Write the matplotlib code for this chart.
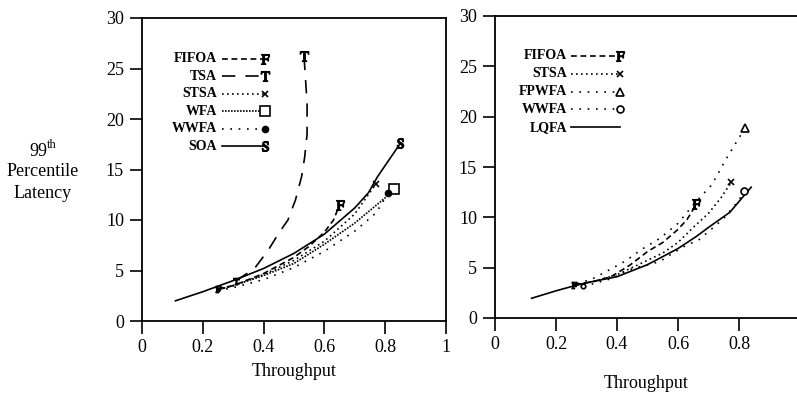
import numpy as np
import matplotlib
matplotlib.use('Agg')
import matplotlib.pyplot as plt

matplotlib.rcParams['font.family'] = ['Liberation Serif', 'DejaVu Serif']
matplotlib.rcParams['mathtext.fontset'] = 'stix'

# ---- left panel data (throughput, 99th percentile latency) ----
soa_x = [0.11, 0.2, 0.3, 0.4, 0.5, 0.6, 0.65, 0.7, 0.745, 0.775, 0.85]
soa_y = [2.0, 2.9, 4.0, 5.2, 6.7, 8.6, 9.9, 11.2, 12.7, 14.3, 17.6]
tsa_x = [0.31, 0.37, 0.415, 0.45, 0.48, 0.505, 0.525, 0.535, 0.543, 0.543, 0.533]
tsa_y = [4.0, 5.2, 7.0, 8.7, 10.0, 12.0, 14.3, 16.2, 18.5, 21.6, 26.2]
fifoa1_x = [0.25, 0.3, 0.4, 0.5, 0.55, 0.6, 0.63, 0.65]
fifoa1_y = [3.2, 3.5, 4.7, 6.3, 7.4, 8.8, 10.0, 11.5]
stsa1_x = [0.25, 0.3, 0.4, 0.5, 0.6, 0.7, 0.77]
stsa1_y = [3.1, 3.5, 4.6, 6.0, 7.9, 10.6, 13.6]
wfa_x = [0.25, 0.3, 0.4, 0.5, 0.6, 0.7, 0.8, 0.83]
wfa_y = [3.1, 3.5, 4.5, 5.7, 7.6, 9.7, 12.2, 13.1]
wwfa1_x = [0.25, 0.3, 0.4, 0.5, 0.6, 0.7, 0.77, 0.81]
wwfa1_y = [3.0, 3.3, 4.1, 5.3, 6.9, 8.9, 10.7, 12.7]

# ---- right panel data ----
lqfa_x = [0.12, 0.2, 0.26, 0.3, 0.4, 0.5, 0.6, 0.66, 0.7, 0.77, 0.84]
lqfa_y = [1.96, 2.7, 3.2, 3.5, 4.1, 5.3, 6.9, 8.1, 9.0, 10.5, 13.0]
fpwfa_x = [0.27, 0.32, 0.37, 0.43, 0.48, 0.54, 0.6, 0.66, 0.71, 0.76, 0.82]
fpwfa_y = [3.4, 3.9, 4.7, 5.7, 6.8, 7.9, 9.4, 11.6, 13.2, 15.9, 18.9]
fifoa2_x = [0.26, 0.32, 0.38, 0.44, 0.5, 0.55, 0.6, 0.63, 0.66]
fifoa2_y = [3.3, 3.6, 4.1, 5.2, 6.6, 7.5, 8.8, 9.8, 11.3]
stsa2_x = [0.26, 0.32, 0.4, 0.47, 0.55, 0.6, 0.65, 0.7, 0.74, 0.775]
stsa2_y = [3.3, 3.6, 4.3, 5.3, 6.45, 7.5, 9.0, 10.4, 11.9, 13.5]
wwfa2_x = [0.29, 0.31, 0.38, 0.45, 0.54, 0.57, 0.62, 0.67, 0.72, 0.75, 0.8, 0.816]
wwfa2_y = [3.2, 3.3, 3.9, 4.9, 5.6, 6.2, 7.1, 7.8, 9.1, 9.9, 11.7, 12.6]

xticks = [0, 0.2, 0.4, 0.6, 0.8, 1]
xticklabels = ['0', '0.2', '0.4', '0.6', '0.8', '1']
yticks = [0, 5, 10, 15, 20, 25, 30]

# styles
FIF = dict(ls=(0, (3.5, 2.2)), marker='$\\mathrm{F}$', ms=7)
TSA = dict(ls=(0, (8, 6)), marker='$\\mathrm{T}$', ms=7)
STS = dict(ls=(0, (1, 2)), marker='x', ms=4.5, mew=1.2)
WFA = dict(ls=(0, (1, 0.8)), marker='s', ms=7, mfc='white', mew=1.2)
WWF1 = dict(ls=(0, (1, 4)), marker='o', ms=4.5, mfc='black')
WWF2 = dict(ls=(0, (1, 4)), marker='o', ms=5, mfc='white', mew=1.2)
SOA = dict(ls='-', marker='$\\mathrm{S}$', ms=7)
FPW = dict(ls=(0, (1, 4)), marker='^', ms=6, mfc='white', mew=1.2)
LQF = dict(ls='-', marker='None')

fig = plt.figure(figsize=(7.97, 3.97), dpi=100, facecolor='white')
axL = fig.add_axes([142/797, 76/397, 304/797, 303/397])
axR = fig.add_axes([495/797, 79/397, 305/797, 302/397])


def curve(ax, x, y, st, start=False):
    ax.plot(x, y, color='black', lw=1.2, markevery=[-1], clip_on=False, **st)
    if start:
        # small marker at the first point of the curve
        s = dict(st)
        s['ms'] = s.get('ms', 6) * 0.65
        s['ls'] = 'None'
        ax.plot(x[:1], y[:1], color='black', **s)


curve(axL, soa_x, soa_y, SOA)
curve(axL, tsa_x, tsa_y, TSA, start=True)
curve(axL, fifoa1_x, fifoa1_y, FIF, start=True)
curve(axL, stsa1_x, stsa1_y, STS, start=True)
curve(axL, wfa_x, wfa_y, WFA)
curve(axL, wwfa1_x, wwfa1_y, WWF1)

curve(axR, lqfa_x, lqfa_y, LQF)
curve(axR, fpwfa_x, fpwfa_y, FPW)
curve(axR, fifoa2_x, fifoa2_y, FIF, start=True)
curve(axR, stsa2_x, stsa2_y, STS, start=True)
curve(axR, wwfa2_x, wwfa2_y, WWF2, start=True)


def key(ax, names, styles, xt, x0, x1, y0, dy):
    for i, (n, st) in enumerate(zip(names, styles)):
        y = y0 - i * dy
        ax.text(xt, y, n, transform=ax.transAxes, ha='right', va='center',
                fontsize=10, fontweight='bold')
        ax.plot([x0, x1], [y, y], color='black', lw=1.2, markevery=[-1],
                transform=ax.transAxes, **st)


key(axL, ['FIFOA', 'TSA', 'STSA', 'WFA', 'WWFA', 'SOA'],
    [FIF, TSA, STS, WFA, WWF1, SOA], 0.247, 0.262, 0.405, 0.865, 0.0575)
key(axR, ['FIFOA', 'STSA', 'FPWFA', 'WWFA', 'LQFA'],
    [FIF, STS, FPW, WWF2, LQF], 0.236, 0.25, 0.41, 0.868, 0.059)

for ax in (axL, axR):
    ax.set_xlim(0, 1)
    ax.set_ylim(0, 30)
    ax.set_xticks(xticks)
    ax.set_yticks(yticks)
    ax.tick_params(direction='out', length=9, width=1.2, labelsize=13, pad=4)
    for sp in ax.spines.values():
        sp.set_linewidth(1.3)
    ax.set_facecolor('none')

axL.set_xticklabels(xticklabels)
axR.set_xticklabels(xticklabels[:-1] + [''])
axR.xaxis.get_major_ticks()[-1].tick1line.set_visible(False)

axL.set_xlabel('Throughput', fontsize=13)
axR.set_xlabel('Throughput', fontsize=13)
axL.xaxis.set_label_coords(0.5, -0.14)
axR.xaxis.set_label_coords(0.495, -0.19)

fig.text(38/797, 1 - 152/397, '99', ha='center', va='center', fontsize=13)
fig.text(47/797, 1 - 145/397, 'th', ha='left', va='center', fontsize=9)
fig.text(43/797, 1 - 172/397, 'Percentile', ha='center', va='center', fontsize=13)
fig.text(43/797, 1 - 193/397, 'Latency', ha='center', va='center', fontsize=13)

fig.savefig('out.png', dpi=100)
